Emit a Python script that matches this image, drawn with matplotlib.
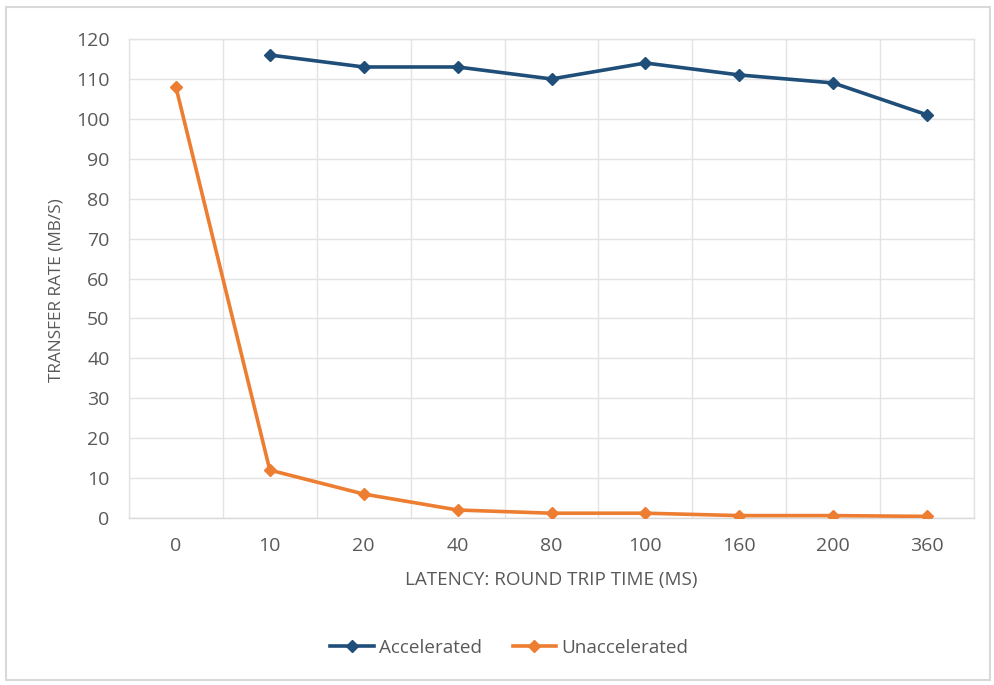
import matplotlib
matplotlib.use("Agg")
import matplotlib.pyplot as plt
from matplotlib.patches import Rectangle

categories = ["0", "10", "20", "40", "80", "100", "160", "200", "360"]
accelerated = [None, 116, 113, 113, 110, 114, 111, 109, 101]
unaccelerated = [108, 12, 6, 2, 1.2, 1.2, 0.6, 0.6, 0.4]

plt.rcParams['font.family'] = ['Open Sans', 'DejaVu Sans']
fig = plt.figure(figsize=(9.95, 6.85), dpi=100)
ax = fig.add_axes([0.1296, 0.2438, 0.979 - 0.1296, 0.943 - 0.2438])

grid_c = "#e3e3e3"
text_c = "#595959"
blue = "#1f4e79"
orange = "#ed7d31"

xs = list(range(len(categories)))
ax_x = [x for x, v in zip(xs, accelerated) if v is not None]
ax_y = [v for v in accelerated if v is not None]
ax.plot(ax_x, ax_y, color=blue, lw=2.6, marker="D", ms=6.5, label="Accelerated", zorder=3)
ax.plot(xs, unaccelerated, color=orange, lw=2.6, marker="D", ms=6.5, label="Unaccelerated", zorder=3)

ax.set_xlim(-0.5, len(categories) - 0.5)
ax.set_ylim(0, 120)
ax.set_yticks(range(0, 121, 10))
ax.set_xticks(xs)
ax.set_xticklabels(categories)
ax.set_xticks([i + 0.5 for i in range(-1, len(categories))], minor=True)
ax.grid(True, which="major", axis="y", color=grid_c, lw=1)
ax.grid(True, which="minor", axis="x", color=grid_c, lw=1)
ax.tick_params(which="both", length=0, labelsize=14, labelcolor=text_c)
ax.tick_params(axis="x", pad=14)
ax.tick_params(axis="y", pad=14)
for s in ax.spines.values():
    s.set_color(grid_c)
    s.set_linewidth(1)
ax.spines["bottom"].set_color("#d9d9d9")

ax.set_ylabel("TRANSFER RATE (MB/S)", fontsize=12.4, color=text_c)
ax.yaxis.set_label_coords(-0.076, 0.476)
ax.set_xlabel("LATENCY: ROUND TRIP TIME (MS)", fontsize=13.6, color=text_c, labelpad=11)

leg = fig.legend(loc="center", bbox_to_anchor=(0.512, 1 - 648 / 685), ncol=2, frameon=False,
                 fontsize=13.6, handlelength=2.3, columnspacing=1.6, handletextpad=0.3)
for t in leg.get_texts():
    t.set_color(text_c)

fig.patches.append(Rectangle((6 / 995, 1 - 680 / 685), 984 / 995, 673 / 685,
                             transform=fig.transFigure, fill=False, edgecolor="#d9d9d9", lw=1.5))

fig.savefig("out.png", dpi=100)
